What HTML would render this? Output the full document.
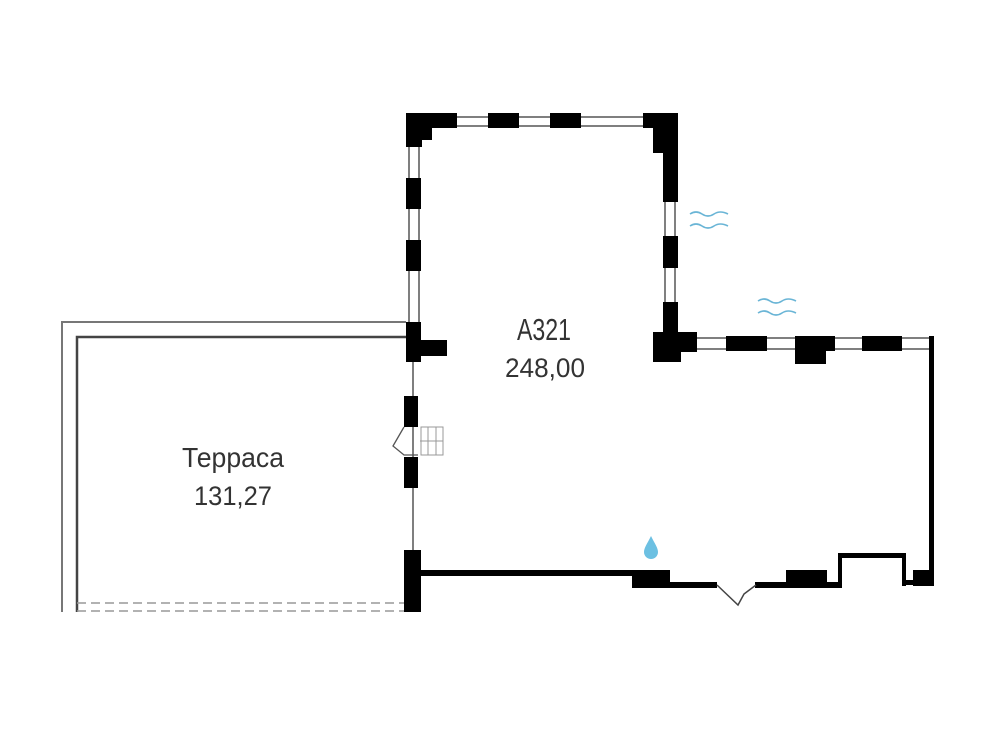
<!DOCTYPE html>
<html><head><meta charset="utf-8"><style>html,body{margin:0;padding:0;background:#fff}svg{display:block}</style></head>
<body>
<svg width="1000" height="746" viewBox="0 0 1000 746" xmlns="http://www.w3.org/2000/svg" font-family="Liberation Sans, sans-serif">
<rect width="1000" height="746" fill="#fff"/>
<polyline points="62,612 62,322 406,322" fill="none" stroke="#777" stroke-width="2"/>
<polyline points="77,612 77,337 406,337" fill="none" stroke="#444" stroke-width="2.5"/>
<line x1="77" y1="603" x2="404" y2="603" stroke="#999" stroke-width="1.5" stroke-dasharray="9,5"/>
<line x1="77" y1="611" x2="404" y2="611" stroke="#999" stroke-width="1.5" stroke-dasharray="9,5"/>
<g fill="none" stroke="#555" stroke-width="1.5">
<line x1="455" y1="117" x2="645" y2="117"/><line x1="455" y1="126" x2="645" y2="126"/>
<line x1="409" y1="145" x2="409" y2="325"/><line x1="419" y1="145" x2="419" y2="325"/>
<line x1="665" y1="200" x2="665" y2="305"/><line x1="675" y1="200" x2="675" y2="305"/>
<line x1="695" y1="338" x2="930" y2="338"/><line x1="695" y1="349" x2="930" y2="349"/>
<line x1="413" y1="360" x2="413" y2="552"/>
</g>
<g fill="#000">
<rect x="406" y="113" width="51" height="15"/><rect x="406" y="113" width="16" height="34"/><rect x="406" y="113" width="26" height="27"/>
<rect x="488" y="113" width="31" height="15"/><rect x="550" y="113" width="31" height="15"/>
<rect x="643" y="113" width="35" height="15"/><rect x="653" y="113" width="25" height="40"/><rect x="663" y="113" width="15" height="89"/>
<rect x="663" y="236" width="15" height="32"/>
<rect x="663" y="302" width="15" height="34"/>
<rect x="653" y="332" width="28" height="30"/><rect x="653" y="332" width="44" height="20"/>
<rect x="726" y="336" width="41" height="15"/><rect x="795" y="336" width="40" height="15"/><rect x="795" y="336" width="31" height="28"/><rect x="862" y="336" width="40" height="15"/>
<rect x="929" y="336" width="5" height="250"/>
<rect x="406" y="178" width="15" height="31"/><rect x="406" y="240" width="15" height="31"/>
<rect x="406" y="322" width="15" height="40"/><rect x="421" y="340" width="26" height="16"/>
<rect x="404" y="396" width="14" height="31"/><rect x="404" y="457" width="14" height="31"/>
<rect x="404" y="550" width="17" height="62"/>
<rect x="420" y="570" width="214" height="6"/>
<rect x="632" y="570" width="38" height="18"/>
<rect x="670" y="582" width="47" height="6"/>
<rect x="755" y="582" width="33" height="6"/>
<rect x="786" y="570" width="41" height="18"/>
<rect x="826" y="582" width="16" height="6"/>
<rect x="838" y="553" width="4" height="35"/>
<rect x="838" y="553" width="68" height="5"/>
<rect x="902" y="553" width="4" height="33"/>
<rect x="902" y="580" width="12" height="5"/>
<rect x="913" y="570" width="21" height="16"/>
</g>
<polyline points="717,585 738,605 744,594 756,585" fill="none" stroke="#444" stroke-width="1.5"/>
<polyline points="404,427 393,446 404,455 418,455" fill="none" stroke="#555" stroke-width="1.3"/>
<g fill="none" stroke="#999" stroke-width="1">
<rect x="421" y="427" width="22" height="28"/><line x1="428" y1="427" x2="428" y2="455"/><line x1="436" y1="427" x2="436" y2="455"/><line x1="420" y1="441" x2="443" y2="441"/>
</g>
<path d="M651,536 C655,544 658,548 658,552 A7,7 0 0 1 644,552 C644,548 647,544 651,536Z" fill="#6cc0e2"/>
<g fill="none" stroke="#6ab5d6" stroke-width="1.6">
<path d="M690,214 q6,-4 12,0 t12,0 t14,0"/><path d="M690,226 q6,-4 12,0 t12,0 t14,0"/>
<path d="M758,301 q6,-4 12,0 t12,0 t14,0"/><path d="M758,313 q6,-4 12,0 t12,0 t14,0"/>
</g>
<g fill="#333" text-anchor="middle">
<text x="544" y="340" font-size="31" textLength="54" lengthAdjust="spacingAndGlyphs">A321</text>
<text x="545" y="377" font-size="27" textLength="80" lengthAdjust="spacingAndGlyphs">248,00</text>
<text x="233" y="467" font-size="28" textLength="102" lengthAdjust="spacingAndGlyphs">Терраса</text>
<text x="233" y="505" font-size="27" textLength="78" lengthAdjust="spacingAndGlyphs">131,27</text>
</g>
</svg>
</body></html>
